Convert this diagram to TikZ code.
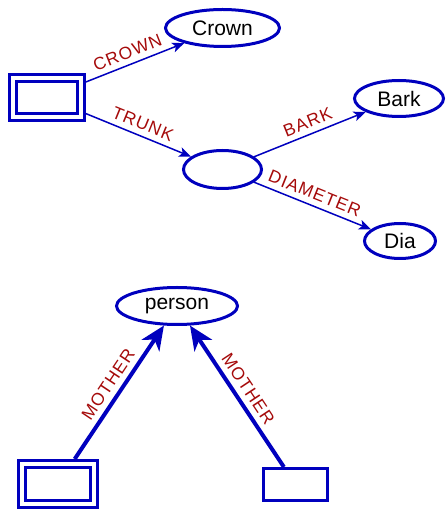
\documentclass[tikz,border=0pt]{standalone}
\usepackage{fontspec}
\setmainfont{Liberation Sans}
\newfontfamily\lblfont[LetterSpace=6]{Liberation Sans}
\usepackage{xcolor}
\usetikzlibrary{arrows.meta,shapes.geometric}
\definecolor{fsblue}{RGB}{0,0,190}
\definecolor{fsred}{RGB}{165,10,10}

\begin{document}
\begin{tikzpicture}[
  x=1pt,y=1pt,
  font=\fontsize{21}{24}\selectfont,
  val/.style={draw=fsblue,ellipse,line width=3pt,inner sep=0pt},
  fsbox/.style={draw=fsblue,rectangle,line width=3pt,inner sep=0pt,outer sep=1.5pt},
  root/.style={draw=fsblue,rectangle,line width=3pt,double,double distance=4pt,
               inner sep=0pt,outer sep=5pt},
  feat/.style={-{Stealth[length=12pt,width=10pt,inset=3pt]},fsblue,line width=1.5pt},
  reent/.style={-{Stealth[length=24pt,width=21pt,inset=7pt]},fsblue,line width=4pt},
  lbl/.style={above=2pt,sloped,text=fsred,font=\lblfont\fontsize{17.5}{20}\selectfont}
]
\useasboundingbox (0,0) rectangle (446,509);

% tree structure
\node[root,minimum width=68,minimum height=39] (tree) at (46.5,411.5) {};
\node[val,minimum width=114,minimum height=37] (crown) at (222.5,481) {Crown};
\node[val,minimum width=78,minimum height=38] (trunk) at (222.5,339.5) {};
\node[val,minimum width=89,minimum height=36] (bark) at (399,410.5) {Bark};
\node[val,minimum width=71,minimum height=35] (dia) at (400,268) {Dia};
\draw[feat] (tree)--node[lbl,pos=0.47] {CROWN} (crown);
\draw[feat] (tree)--node[lbl,pos=0.5] {TRUNK} (trunk);
\draw[feat] (trunk)--node[lbl,pos=0.52] {BARK} (bark);
\draw[feat] (trunk)--node[lbl,pos=0.48] {DIAMETER} (dia);

% shared value
\node[val,minimum width=121,minimum height=37] (person) at (177,203) {person};
\node[root,minimum width=72,minimum height=40] (left) at (58,25) {};
\node[fsbox,minimum width=64,minimum height=32] (right) at (295.5,24.5) {};
\draw[reent] (left)--node[lbl,pos=0.5] {MOTHER} (person);
\draw[reent] (right)--node[lbl,pos=0.5] {MOTHER} (person);
\end{tikzpicture}
\end{document}
